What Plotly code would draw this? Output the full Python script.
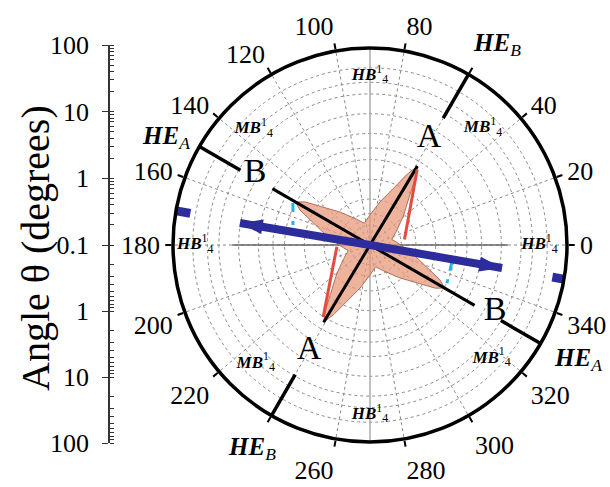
import plotly.graph_objects as go

# ---------------- data ----------------
ang_ticks = [0, 20, 40, 60, 80, 100, 120, 140, 160, 180, 200, 220, 240, 260, 280, 300, 320, 340]
ang_text = ["0", "20", "40", "", "80", "100", "120", "140", "160", "180", "200", "220", "", "260", "280", "300", "320", "340"]
rad_grid = [0.2, 0.3, 0.5, 1, 2, 3, 5, 10, 20, 30, 50]
left_ticks = [0.1, 1, 10, 100]
left_text = ["0.1", "1", "10", "100"]

# pink star (theta deg, r)
star_theta = [27, 41, 51, 55.5, 59, 62.5, 67, 77, 91, 104.5,
              118, 132, 142, 146.5, 150, 153.5, 158, 168, 182, 194.5,
              207, 221, 231, 235.5, 239, 242.5, 247, 257, 271, 284.5,
              298, 312, 322, 326.5, 330, 333.5, 338, 348, 362, 374.5, 387]
star_r = [0.28, 0.47, 0.9, 1.6, 2.52, 1.6, 0.9, 0.47, 0.28, 0.22,
          0.28, 0.47, 0.9, 1.55, 2.05, 1.55, 0.9, 0.47, 0.28, 0.22,
          0.28, 0.47, 0.9, 1.55, 2.35, 1.55, 0.9, 0.47, 0.28, 0.22,
          0.28, 0.47, 0.9, 1.55, 2.05, 1.55, 0.9, 0.47, 0.28, 0.22, 0.28]

lineA_theta = [59, 59, 239, 239]
lineA_r = [2.52, 0.1, 0.1, 2.35]
lineB_theta = [150, 150, 330, 330]
lineB_r = [5.2, 0.1, 0.1, 6.9]

he_theta = [[60, 60], [150, 150], [240, 240], [330, 330]]
he_r = [[17, 100], [19, 100], [19, 100], [20, 100]]

red1_theta = [58, 9]
red1_r = [2.27, 0.34]
red2_theta = [237, 183]
red2_r = [2.04, 0.32]

blue_theta = [170.4, 170.4, 350.1, 350.1]
blue_r = [10.2, 0.1, 0.1, 11.0]
blue_head_theta = [170.4, 350.1]
blue_head_r = [10.2, 11.0]

cyan1_theta = [151.4, 165.4]
cyan1_r = [2.17, 1.63]
cyan2_theta = [348.3, 333.7]
cyan2_r = [1.88, 2.03]

blob1_theta = [170, 170]
blob1_r = [60, 140]
blob2_theta = [350, 350]
blob2_r = [66, 130]

hline_theta = [0, 0, 180, 180]
hline_r = [12.6, 0.1, 0.1, 12.6]
vline_theta = [90, 90, 270, 270]
vline_r = [100, 0.1, 0.1, 100]

hb_theta = [90, 0, 180, 270]
hb_r = [38, 38, 46, 38]
mb_theta = [46, 135, 226, 317]
mb_r = [30, 32, 32, 34]

letter_theta = [61, 240, 148, 332]
letter_r = [7.2, 7.2, 11.6, 14.4]
letter_text = ["A", "A", "B", "B"]

FONT = "Liberation Serif, Times New Roman, serif"

fig = go.Figure()

# left log axes (invisible anchor points)
fig.add_trace(go.Scatter(x=[0] * len(left_ticks), y=left_ticks, mode="markers",
                         marker=dict(opacity=0), hoverinfo="skip", showlegend=False,
                         xaxis="x", yaxis="y"))
fig.add_trace(go.Scatter(x=[0] * len(left_ticks), y=left_ticks, mode="markers",
                         marker=dict(opacity=0), hoverinfo="skip", showlegend=False,
                         xaxis="x", yaxis="y2"))

def pl(theta, r, color, width, dash="solid"):
    fig.add_trace(go.Scatterpolar(theta=theta, r=r, mode="lines",
                                  line=dict(color=color, width=width, dash=dash),
                                  hoverinfo="skip", showlegend=False, cliponaxis=False))

pl(vline_theta, vline_r, "#aaaaaa", 1.5)
pl(hline_theta, hline_r, "#666666", 1.5)

fig.add_trace(go.Scatterpolar(theta=star_theta, r=star_r, mode="lines", fill="toself",
                              fillcolor="rgba(232,150,118,0.72)",
                              line=dict(color="#b0705a", width=1),
                              hoverinfo="skip", showlegend=False))

for t, r in zip(he_theta, he_r):
    pl(t, r, "black", 3.5)

pl(lineA_theta, lineA_r, "black", 3)
pl(lineB_theta, lineB_r, "black", 3)
pl(red1_theta, red1_r, "#e64a40", 3)
pl(red2_theta, red2_r, "#e64a40", 3)
pl(cyan1_theta, cyan1_r, "#22b4e8", 3, "dash")
pl(cyan2_theta, cyan2_r, "#22b4e8", 3, "dash")

pl(blue_theta, blue_r, "#2c2c9c", 8)
fig.add_trace(go.Scatterpolar(theta=blue_head_theta, r=blue_head_r, mode="markers",
                              marker=dict(symbol="arrow", size=24, color="#2c2c9c",
                                          angle=[279.6, 99.9], line=dict(width=0)),
                              hoverinfo="skip", showlegend=False, cliponaxis=False))
pl(blob1_theta, blob1_r, "#2c2c9c", 9)
pl(blob2_theta, blob2_r, "#2c2c9c", 9)

fig.add_trace(go.Scatterpolar(theta=hb_theta, r=hb_r, mode="text",
                              text=["<b><i>HB</i></b><sup>1</sup><sub>4</sub>"] * len(hb_theta),
                              textfont=dict(family=FONT, size=17, color="black"),
                              hoverinfo="skip", showlegend=False, cliponaxis=False))
fig.add_trace(go.Scatterpolar(theta=mb_theta, r=mb_r, mode="text",
                              text=["<b><i>MB</i></b><sup>1</sup><sub>4</sub>"] * len(mb_theta),
                              textfont=dict(family=FONT, size=17, color="black"),
                              hoverinfo="skip", showlegend=False, cliponaxis=False))
fig.add_trace(go.Scatterpolar(theta=letter_theta, r=letter_r, mode="text",
                              text=letter_text,
                              textfont=dict(family=FONT, size=34, color="black"),
                              hoverinfo="skip", showlegend=False, cliponaxis=False))

W, H = 610, 487

def ann(txt, px, py, size, angle=0):
    fig.add_annotation(text=txt, x=px / W, y=1 - py / H, xref="paper", yref="paper",
                       showarrow=False, textangle=angle,
                       font=dict(family=FONT, size=size, color="black"),
                       xanchor="center", yanchor="middle")

ann("<b><i>HE</i></b><sub><i>B</i></sub>", 497, 45, 25)
ann("<b><i>HE</i></b><sub><i>A</i></sub>", 166, 137, 25)
ann("<b><i>HE</i></b><sub><i>A</i></sub>", 578, 359, 25)
ann("<b><i>HE</i></b><sub><i>B</i></sub>", 252, 448, 25)
ann("Angle θ (degrees)", 35, 248, 40, -90)

cx, cy, R = 370, 245, 197
yaxis_common = dict(type="log", anchor="x", automargin=False, tickmode="array",
                    tickfont=dict(family=FONT, size=26, color="black"),
                    ticks="outside", ticklen=6, tickcolor="#333", ticklabelstandoff=8,
                    showline=True, linecolor="#333", linewidth=1.5, showgrid=False,
                    zeroline=False,
                    minor=dict(ticks="inside", ticklen=4, tickcolor="#333", dtick="D1",
                               showgrid=False))
fig.update_layout(
    template="none",
    width=W, height=H,
    margin=dict(l=0, r=0, t=0, b=0, pad=0, autoexpand=False),
    paper_bgcolor="white", plot_bgcolor="white",
    showlegend=False,
    font=dict(family=FONT, color="black"),
    polar=dict(
        domain=dict(x=[(cx - R) / W, (cx + R) / W], y=[1 - (cy + R) / H, 1 - (cy - R) / H]),
        bgcolor="white",
        radialaxis=dict(type="log", range=[-1, 2], tickvals=rad_grid, showticklabels=False,
                        ticks="", showline=False, gridcolor="#8a8a8a", griddash="dot",
                        gridwidth=1),
        angularaxis=dict(rotation=0, direction="counterclockwise", tickmode="array",
                         tickvals=ang_ticks, ticktext=ang_text,
                         tickfont=dict(family=FONT, size=26, color="black"),
                         ticks="outside", ticklen=6, tickcolor="black", tickwidth=1.5,
                         showline=True, linecolor="black", linewidth=3.5,
                         gridcolor="#8a8a8a", griddash="dot", gridwidth=1),
    ),
    xaxis=dict(domain=[110 / W, 111 / W], visible=False, range=[0, 1], fixedrange=True,
               automargin=False),
    yaxis=dict(domain=[1 - cy / H, 1 - 45 / H], range=[-1, 2],
               tickvals=left_ticks, ticktext=left_text, **yaxis_common),
    yaxis2=dict(domain=[1 - 443 / H, 1 - cy / H], range=[2, -1],
                tickvals=left_ticks[1:], ticktext=left_text[1:], **yaxis_common),
)

fig.write_html("out.html", config={"displayModeBar": False},
               post_script="document.body.style.margin='0';document.body.style.overflow='hidden';")
